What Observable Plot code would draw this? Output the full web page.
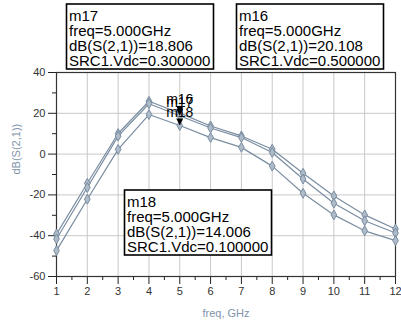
<!DOCTYPE html>
<html><head><meta charset="utf-8">
<script src="https://cdn.jsdelivr.net/npm/d3@7"></script>
<script src="https://cdn.jsdelivr.net/npm/@observablehq/plot@0.6"></script>
<style>body{margin:0;background:#fff} svg{display:block}</style>
</head><body><div id="chart"></div>
<script>
// ---- data ----
const freq = [1, 2, 3, 4, 5, 6, 7, 8, 9, 10, 11, 12];
const vdc05 = [-39.2, -14.3, 10.1, 25.9, 20.108, 13.8, 8.9, 2.4, -9.4, -20.5, -29.8, -36.7];
const vdc03 = [-41.6, -16.4, 8.8, 24.7, 18.806, 12.8, 8.1, 0.8, -12.2, -24.1, -32.7, -38.7];
const vdc01 = [-47.3, -22.1, 2.3, 19.4, 14.006, 8.1, 3.3, -5.9, -19.2, -29.8, -37.6, -42.4];
const seriesVdc = ["0.500000", "0.300000", "0.100000"];
const markerNames = ["m16", "m17", "m18"];
const markerFreq = 5;
const markerValues = [20.108, 18.806, 14.006];
const xTicks = [1, 2, 3, 4, 5, 6, 7, 8, 9, 10, 11, 12];
const xMinorTicks = [1.5, 2.5, 3.5, 4.5, 5.5, 6.5, 7.5, 8.5, 9.5, 10.5, 11.5];
const yTicks = [-60, -40, -20, 0, 20, 40];
const yMinorTicks = [-50, -30, -10, 10, 30];
const xLabel = "freq, GHz";
const yLabel = "dB(S(2,1))";

// ---- build tables ----
const seriesValues = [vdc05, vdc03, vdc01];
const rows = seriesValues.flatMap((vals, i) => freq.map((f, j) => ({freq: f, db: vals[j], vdc: seriesVdc[i]})));
const markers = markerNames.map((n, i) => ({name: n, value: markerValues[i], vdc: seriesVdc[i]}));

const lineColor = "#7a8da1";
const labelColor = "#8194ab";
const font = "'Liberation Sans', Arial, sans-serif";

const downTriangle = {
  draw(ctx, size) {
    const w = Math.sqrt(size / Math.PI);
    ctx.moveTo(-w, -2 * w);
    ctx.lineTo(w, -2 * w);
    ctx.lineTo(0, 0);
    ctx.closePath();
  }
};

const plot = Plot.plot({
  width: 401, height: 323,
  marginLeft: 56, marginRight: 6, marginTop: 72, marginBottom: 47,
  style: {fontFamily: font, background: "white", overflow: "visible"},
  x: {domain: [1, 12]},
  y: {domain: [-60, 40]},
  marks: [
    Plot.gridX(xTicks, {stroke: "#c9c9c9", strokeOpacity: 1}),
    Plot.gridY(yTicks, {stroke: "#c9c9c9", strokeOpacity: 1}),
    Plot.axisX(xMinorTicks, {tickSize: 4, tickFormat: () => "", stroke: "#222", label: null}),
    Plot.axisX(xTicks, {tickSize: 8, tickPadding: 3, fontSize: 11, fill: "#333", stroke: "#222", label: null}),
    Plot.axisY(yMinorTicks, {tickSize: 4, tickFormat: () => "", stroke: "#222", label: null}),
    Plot.axisY(yTicks, {tickSize: 8, tickPadding: 3, fontSize: 11, fill: "#333", stroke: "#222", label: null, tickFormat: d => String(d)}),
    Plot.frame({stroke: "#333", strokeWidth: 1.2}),
    Plot.line(rows, {x: "freq", y: "db", z: "vdc", stroke: lineColor, strokeWidth: 1.2}),
    Plot.dot(rows, {x: "freq", y: "db", symbol: "diamond", r: 3, fill: "#aebbc8", stroke: lineColor, strokeWidth: 1}),
    Plot.dot(markers, {x: () => markerFreq, y: "value", symbol: downTriangle, r: 3.5, fill: "black", stroke: "none"}),
    Plot.text(markers, {x: () => markerFreq, y: "value", text: "name", dy: -13.5, fontSize: 14, fill: "black"}),
    Plot.text([xLabel], {frameAnchor: "bottom", dy: 40, fontSize: 11, fill: labelColor, text: d => d}),
    Plot.text([yLabel], {frameAnchor: "left", dx: -40, rotate: -90, fontSize: 11, fill: labelColor, text: d => d})
  ]
});

// ---- marker readout boxes (annotation layer) ----
const boxes = [
  {i: 1, left: 66.5, top: 4, w: 147, h: 65},
  {i: 0, left: 236.5, top: 4, w: 147, h: 65},
  {i: 2, left: 124.5, top: 190, w: 147, h: 65}
];
const svg = d3.select(plot);
const g = svg.append("g").attr("font-family", font).attr("font-size", 15).attr("text-anchor", "start");
for (const b of boxes) {
  const m = markers[b.i];
  g.append("rect").attr("x", b.left).attr("y", b.top).attr("width", b.w).attr("height", b.h)
    .attr("fill", "white").attr("stroke", "black").attr("stroke-width", 1.6);
  const lines = [m.name, `freq=${markerFreq.toFixed(3)}GHz`, `dB(S(2,1))=${m.value.toFixed(3)}`, `SRC1.Vdc=${m.vdc}`];
  lines.forEach((t, k) => {
    g.append("text").attr("x", b.left + 2.5).attr("y", b.top + 17 + k * 15)
      .attr("text-anchor", "start").attr("fill", "black").text(t);
  });
}
document.getElementById("chart").appendChild(plot);
</script>
</body></html>
